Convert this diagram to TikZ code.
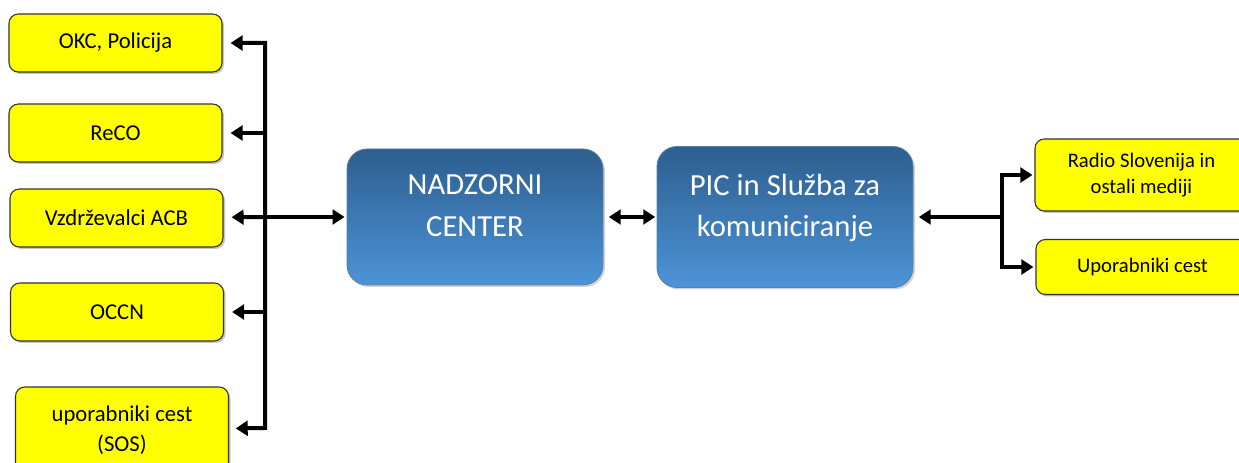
\documentclass[tikz,border=0pt]{standalone}
\usepackage{fontspec}
\setmainfont{Carlito}
\usetikzlibrary{arrows.meta,shadows}

\definecolor{boxyellow}{RGB}{255,255,0}
\definecolor{bluetop}{RGB}{45,94,142}
\definecolor{bluebot}{RGB}{76,148,216}

\begin{document}
\begin{tikzpicture}[x=0.75pt, y=-0.75pt, line width=3pt,
	arrows={-Triangle[length=9pt,width=11pt]},
	party/.style={draw=black!80, line width=0.8pt, fill=boxyellow, rounded corners=7pt,
		minimum width=159.75pt, inner sep=0pt, align=center,
		font=\fontsize{17}{22.5}\selectfont,
		drop shadow={shadow xshift=1.5pt, shadow yshift=-1.5pt, opacity=.45}},
	media/.style={party, font=\fontsize{15.5}{20}\selectfont},
	centre/.style={draw=bluetop!80, line width=0.6pt, top color=bluetop, bottom color=bluebot,
		rounded corners=15pt, minimum width=192pt, inner sep=0pt, align=center,
		text=white, text depth=17pt, font=\fontsize{23}{31}\selectfont,
		drop shadow={shadow xshift=1.5pt, shadow yshift=-1.5pt, opacity=.35}}]
	\useasboundingbox (0,0) rectangle (1239,463);
	\node [party, minimum height=43.5pt] (OKC) at (115.5,43) {OKC, Policija};
	\node [party, minimum height=43.5pt] (ReCO) at (115.5,133) {ReCO};
	\node [party, minimum height=43.5pt] (ACB) at (116.5,218) {Vzdrževalci ACB};
	\node [party, minimum height=43.5pt] (OCCN) at (117,312) {OCCN};
	\node [party, minimum height=64.5pt] (SOS) at (122,430) {uporabniki cest\\(SOS)};
	\node [centre, minimum height=102pt] (NC) at (475,217) {NADZORNI\\CENTER};
	\node [centre, minimum height=105.75pt] (PIC) at (785,217) {PIC in Služba za\\komuniciranje};
	\node [media, minimum height=54pt] (RS) at (1141.5,175) {Radio Slovenija in\\ostali mediji};
	\node [media, minimum height=41.25pt] (UC) at (1142.5,267) {Uporabniki cest};
	\coordinate (L1) at (265,43);
	\coordinate (L2) at (265,133);
	\coordinate (L3) at (265,217);
	\coordinate (L4) at (265,312);
	\coordinate (L5) at (265,428);
	\coordinate (R0) at (1002,217);
	\coordinate (R1) at (1002,175);
	\coordinate (R2) at (1002,267);
	\draw [{Triangle[length=9pt,width=11pt]}-{Triangle[length=9pt,width=11pt]}, shorten <=6pt, shorten >=5pt] (OKC) -- (L1) -- (L5) -- (SOS);
	\draw [shorten >=6pt] (L2) to (ReCO);
	\draw [shorten >=6pt] (L3) to (ACB);
	\draw [shorten >=6pt] (L4) to (OCCN);
	\draw [shorten >=1.5pt] (L3) to (NC);
	\draw [{Triangle[length=9pt,width=11pt]}-{Triangle[length=9pt,width=11pt]}, shorten <=4pt, shorten >=1pt] (NC) to (PIC);
	\draw [shorten >=4pt] (R0) to (PIC);
	\draw [{Triangle[length=9pt,width=11pt]}-{Triangle[length=9pt,width=11pt]}, shorten <=1.5pt, shorten >=1.5pt] (RS) -- (R1) -- (R2) -- (UC);
\end{tikzpicture}
\end{document}
